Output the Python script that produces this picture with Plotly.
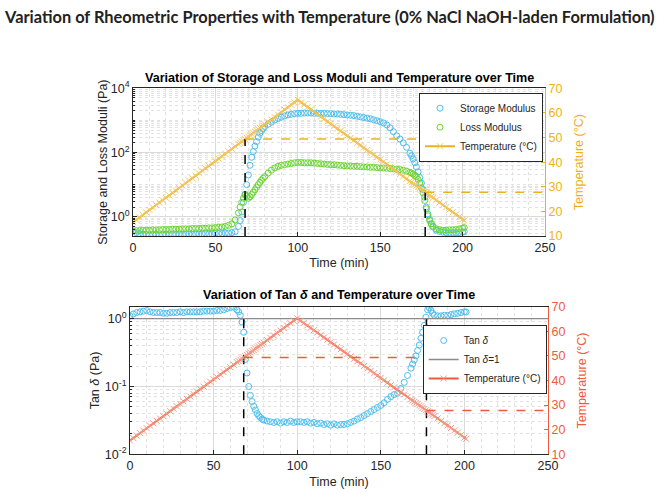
import plotly.graph_objects as go

# ---------------- data ----------------
time_min = [
    0, 2, 4, 6, 8, 10, 12, 14, 16, 18, 20, 22, 24, 26, 28, 30, 32, 34, 36, 38,
    40, 42, 44, 46, 48, 50, 52, 54, 56, 58, 60, 62, 64,
    65, 66, 67, 68, 69, 70, 71, 72, 73, 74, 75, 76, 77, 78, 79, 80,
    82, 84, 86, 88, 90, 92, 94, 96, 98, 100, 102, 104, 106, 108, 110, 112, 114,
    116, 118, 120, 122, 124, 126, 128, 130, 132, 134, 136, 138, 140, 142, 144,
    146, 148, 150, 152, 154, 156, 158, 160, 162, 164, 166, 168,
    169, 170, 171, 172, 173, 174, 175, 176, 177, 178, 179, 180, 181, 182,
    184, 186, 188, 190, 192, 194, 196, 198, 200, 201,
]

storage_modulus_pa = [
    0.36, 0.32, 0.30, 0.29, 0.28, 0.27, 0.28, 0.28, 0.27, 0.28, 0.28, 0.29, 0.28,
    0.28, 0.29, 0.28, 0.29, 0.29, 0.28, 0.29, 0.29, 0.29, 0.30, 0.29, 0.29, 0.30,
    0.30, 0.30, 0.31, 0.31, 0.32, 0.34, 0.50,
    0.76, 1.41, 2.8, 5.0, 10, 20, 40, 71, 107, 158, 219, 302, 398, 479, 562, 646,
    759, 891, 1023, 1148, 1259, 1380, 1479, 1549, 1622, 1660, 1660, 1698, 1698,
    1698, 1660, 1660, 1660, 1660, 1622, 1622, 1585, 1585, 1549, 1514, 1479, 1445,
    1413, 1349, 1288, 1230, 1175, 1122, 1047, 977, 912, 832, 724, 589, 447, 331,
    263, 200, 145, 95,
    79, 63, 48, 35.5, 25.1, 16.6, 11.2, 7.1, 4.0, 2.0, 1.2, 0.83, 0.60, 0.48,
    0.38, 0.35, 0.33, 0.32, 0.32, 0.32, 0.32, 0.32, 0.33, 0.34,
]

loss_modulus_pa = [
    0.36, 0.37, 0.37, 0.38, 0.38, 0.38, 0.39, 0.39, 0.39, 0.40, 0.40, 0.40, 0.41,
    0.41, 0.41, 0.42, 0.42, 0.42, 0.43, 0.43, 0.43, 0.44, 0.44, 0.45, 0.45, 0.46,
    0.47, 0.48, 0.50, 0.54, 0.60, 0.79, 1.32,
    2.0, 2.8, 3.8, 4.8, 4.3, 3.8, 4.2, 4.9, 5.8, 6.9, 8.3, 10, 11.7, 13.8, 15.8, 17.8,
    22.9, 28.2, 33.1, 37.2, 39.8, 41.7, 43.7, 45.7, 47.9, 49.0, 49.0, 47.9, 47.9,
    47.9, 46.8, 45.7, 44.7, 43.7, 42.7, 41.7, 41.7, 40.7, 39.8, 38.9, 38.0, 38.0,
    37.2, 37.2, 36.3, 35.5, 35.5, 34.7, 34.7, 33.9, 33.1, 33.1, 32.4, 31.6, 30.9,
    30.2, 29.5, 28.2, 26.3, 24.0,
    22.9, 21.4, 19.5, 17.8, 14.5, 11.2, 7.9, 5.5, 3.2, 1.78, 1.07, 0.76, 0.60, 0.50,
    0.42, 0.39, 0.38, 0.38, 0.39, 0.39, 0.40, 0.42, 0.44, 0.46,
]

tan_delta = [
    1.10, 1.17, 1.23, 1.26, 1.29, 1.32, 1.26, 1.23, 1.23, 1.23, 1.20, 1.20, 1.23,
    1.23, 1.23, 1.26, 1.23, 1.26, 1.26, 1.26, 1.26, 1.26, 1.29, 1.29, 1.29, 1.29,
    1.32, 1.32, 1.35, 1.41, 1.45, 1.48, 1.35,
    1.26, 1.12, 0.89, 0.63, 0.25, 0.158, 0.100, 0.074, 0.060, 0.051, 0.045, 0.040,
    0.037, 0.035, 0.033, 0.032,
    0.0309, 0.0302, 0.0295, 0.0302, 0.0288, 0.0302, 0.0295, 0.0309, 0.0295, 0.0302,
    0.0302, 0.0295, 0.0302, 0.0288, 0.0295, 0.0282, 0.0288, 0.0275, 0.0282, 0.0269,
    0.0282, 0.0269, 0.0275, 0.0275, 0.0282, 0.0295, 0.0309, 0.0331, 0.0347, 0.0372,
    0.0398, 0.0427, 0.0457, 0.049, 0.0525, 0.0575, 0.0646, 0.0708, 0.0759, 0.0794,
    0.0933, 0.115, 0.145, 0.186,
    0.214, 0.245, 0.282, 0.339, 0.407, 0.513, 0.631, 0.794, 1.05, 1.35, 1.45, 1.32,
    1.20, 1.12,
    1.10, 1.10, 1.12, 1.12, 1.15, 1.18, 1.20, 1.23, 1.26, 1.25,
]

temperature_c = [
    15.6, 16.6, 17.6, 18.6, 19.6, 20.6, 21.6, 22.6, 23.6, 24.5, 25.5, 26.5, 27.5,
    28.5, 29.5, 30.5, 31.5, 32.5, 33.5, 34.5, 35.5, 36.5, 37.5, 38.5, 39.5, 40.5,
    41.4, 42.4, 43.4, 44.4, 45.4, 46.4, 47.4,
    47.9, 48.4, 48.9, 49.4, 49.9, 50.4, 50.9, 51.4, 51.9, 52.4, 52.9, 53.4, 53.9,
    54.4, 54.9, 55.4,
    56.4, 57.3, 58.3, 59.3, 60.3, 61.3, 62.3, 63.3, 64.3, 65.3, 64.3, 63.4, 62.4,
    61.4, 60.5, 59.5, 58.5, 57.5, 56.6, 55.6, 54.6, 53.7, 52.7, 51.7, 50.8, 49.8,
    48.8, 47.8, 46.9, 45.9, 44.9, 44.0, 43.0, 42.0, 41.1, 40.1, 39.1, 38.1, 37.2,
    36.2, 35.2, 34.3, 33.3, 32.3,
    31.8, 31.3, 30.9, 30.4, 29.9, 29.4, 28.9, 28.4, 27.9, 27.5, 27.0, 26.5, 26.0, 25.5,
    24.6, 23.6, 22.6, 21.7, 20.7, 19.7, 18.8, 17.8, 16.8, 16.3,
]

transition_time_min = [68.0, 177.3]
transition_temp_c = [49.4, 27.8]
tan_delta_unity = 1.0
time_range = [0, 250]
time_ticks = [0, 50, 100, 150, 200, 250]
temp_range = [10, 70]
temp_ticks = [10, 20, 30, 40, 50, 60, 70]
moduli_ticks = [1, 100, 10000]
moduli_tick_text = ["10<sup>0</sup>", "10<sup>2</sup>", "10<sup>4</sup>"]
tan_ticks = [0.01, 0.1, 1]
tan_tick_text = ["10<sup>-2</sup>", "10<sup>-1</sup>", "10<sup>0</sup>"]

# ---------------- styles ----------------
FONT = "Liberation Sans, Arial, Helvetica, sans-serif"
DARK = "#262626"
BLUE = "#4DBEEE"
GREEN = "#6AD530"
ORANGE = "#EDB120"
ORANGE_M = "#F4C766"
RED = "#F05A3C"
RED_M = "#F59A85"
GRID = "#DADADA"
MINOR = "#E2E2E2"

W, H = 661, 493


def px_x(p):
    return p / W


def px_y(p):
    return 1 - p / H


fig = go.Figure()

# ---- top panel ----
fig.add_trace(go.Scatter(
    x=time_min, y=storage_modulus_pa, mode="markers", name="Storage Modulus",
    marker=dict(symbol="circle-open", size=6, color=BLUE, line=dict(width=1, color=BLUE)),
    xaxis="x", yaxis="y", legend="legend"))
fig.add_trace(go.Scatter(
    x=time_min, y=loss_modulus_pa, mode="markers", name="Loss Modulus",
    marker=dict(symbol="circle-open", size=6, color=GREEN, line=dict(width=1, color=GREEN)),
    xaxis="x", yaxis="y", legend="legend"))
fig.add_trace(go.Scatter(
    x=time_min, y=temperature_c, mode="lines+markers", name="Temperature (°C)",
    line=dict(color=ORANGE, width=2),
    marker=dict(symbol="x-thin", size=6, color=ORANGE_M, line=dict(width=1, color=ORANGE_M)),
    xaxis="x", yaxis="y2", legend="legend"))
for t, temp in zip(transition_time_min, transition_temp_c):
    fig.add_trace(go.Scatter(
        x=[t, t], y=[temp_range[0], temp], mode="lines", showlegend=False,
        line=dict(color="black", width=1.5, dash="dash"), xaxis="x", yaxis="y2",
        hoverinfo="skip"))
    fig.add_trace(go.Scatter(
        x=[t, time_range[1]], y=[temp, temp], mode="lines", showlegend=False,
        line=dict(color=ORANGE, width=1.5, dash="dash"), xaxis="x", yaxis="y2",
        hoverinfo="skip"))

# ---- bottom panel ----
fig.add_trace(go.Scatter(
    x=time_min, y=tan_delta, mode="markers", name="Tan <i>δ</i>",
    marker=dict(symbol="circle-open", size=6, color=BLUE, line=dict(width=1, color=BLUE)),
    xaxis="x2", yaxis="y3", legend="legend2"))
fig.add_trace(go.Scatter(
    x=time_range, y=[tan_delta_unity, tan_delta_unity], mode="lines", name="Tan <i>δ</i>=1",
    line=dict(color="#8C8C8C", width=1.3), xaxis="x2", yaxis="y3", legend="legend2"))
fig.add_trace(go.Scatter(
    x=time_min, y=temperature_c, mode="lines+markers", name="Temperature (°C)",
    line=dict(color=RED, width=2),
    marker=dict(symbol="x-thin", size=6, color=RED_M, line=dict(width=1, color=RED_M)),
    xaxis="x2", yaxis="y4", legend="legend2"))
for t, temp in zip(transition_time_min, transition_temp_c):
    fig.add_trace(go.Scatter(
        x=[t, t], y=[tan_ticks[0], tan_delta_unity], mode="lines", showlegend=False,
        line=dict(color="black", width=1.5, dash="dash"), xaxis="x2", yaxis="y3",
        hoverinfo="skip"))
    fig.add_trace(go.Scatter(
        x=[t, time_range[1]], y=[temp, temp], mode="lines", showlegend=False,
        line=dict(color=RED, width=1.5, dash="dash"), xaxis="x2", yaxis="y4",
        hoverinfo="skip"))

tickfont = dict(family=FONT, size=12.5, color=DARK)
titlefont = dict(family=FONT, size=12.5, color=DARK)

moduli_minor = [k * 10 ** n for n in range(-1, 4) for k in range(1, 10)]
moduli_minor = [v for v in moduli_minor if v not in moduli_ticks]
tan_minor = [k * 10 ** n for n in range(-2, 1) for k in range(1, 10)]
tan_minor = [v for v in tan_minor if v not in tan_ticks]


def xaxis(domain, anchor):
    return dict(
        domain=domain, anchor=anchor, range=time_range, tickvals=time_ticks,
        automargin=False,
        showgrid=True, gridcolor=GRID, gridwidth=1, zeroline=False,
        showline=True, linecolor=DARK, linewidth=1, mirror=True,
        ticks="inside", ticklen=4, tickcolor=DARK, tickfont=tickfont,
        title=dict(text="Time (min)", font=titlefont, standoff=4),
        minor=dict(dtick=10, showgrid=True, gridcolor=MINOR, griddash="dot", ticks=""),
    )


fig.update_layout(
    width=W, height=H, margin=dict(l=0, r=0, t=0, b=0),
    paper_bgcolor="white", plot_bgcolor="white",
    font=dict(family=FONT, color=DARK),
    xaxis=xaxis([px_x(133), px_x(545)], "y"),
    yaxis=dict(
        domain=[px_y(236), px_y(88.3)], anchor="x", type="log", range=[-0.6, 4],
        automargin=False,
        tickvals=moduli_ticks, ticktext=moduli_tick_text, tickfont=tickfont,
        showgrid=True, gridcolor=GRID, zeroline=False,
        showline=True, linecolor=DARK, linewidth=1,
        ticks="inside", ticklen=4, tickcolor=DARK,
        minor=dict(tickvals=moduli_minor, showgrid=True, gridcolor=MINOR, griddash="dot",
                   ticks="inside", ticklen=2, tickcolor=DARK),
        title=dict(text="Storage and Loss Moduli (Pa)", font=titlefont, standoff=0),
    ),
    yaxis2=dict(
        overlaying="y", side="right", anchor="x", range=temp_range, tickvals=temp_ticks,
        automargin=False,
        showgrid=False, zeroline=False, showline=True, linecolor=ORANGE, linewidth=1,
        ticks="inside", ticklen=4, tickcolor=ORANGE,
        tickfont=dict(family=FONT, size=12.5, color=ORANGE),
        title=dict(text="Temperature (°C)", font=dict(family=FONT, size=12.5, color=ORANGE),
                   standoff=12),
    ),
    xaxis2=xaxis([px_x(130), px_x(548)], "y3"),
    yaxis3=dict(
        domain=[px_y(454.3), px_y(306.7)], anchor="x2", type="log", range=[-2, 0.176],
        automargin=False,
        tickvals=tan_ticks, ticktext=tan_tick_text, tickfont=tickfont,
        showgrid=True, gridcolor=GRID, zeroline=False,
        showline=True, linecolor=DARK, linewidth=1,
        ticks="inside", ticklen=4, tickcolor=DARK,
        minor=dict(tickvals=tan_minor, showgrid=True, gridcolor=MINOR, griddash="dot",
                   ticks="inside", ticklen=2, tickcolor=DARK),
        title=dict(text="Tan <i>δ</i> (Pa)", font=titlefont, standoff=2),
    ),
    yaxis4=dict(
        overlaying="y3", side="right", anchor="x2", range=temp_range, tickvals=temp_ticks,
        automargin=False,
        showgrid=False, zeroline=False, showline=True, linecolor=RED, linewidth=1,
        ticks="inside", ticklen=4, tickcolor=RED,
        tickfont=dict(family=FONT, size=12.5, color=RED),
        title=dict(text="Temperature (°C)", font=dict(family=FONT, size=12.5, color=RED),
                   standoff=12),
    ),
    legend=dict(
        x=px_x(543), xanchor="right", y=px_y(92.7), yanchor="top",
        bgcolor="white", bordercolor=DARK, borderwidth=1,
        font=dict(family=FONT, size=10, color=DARK), tracegroupgap=0, itemwidth=30,
    ),
    legend2=dict(
        x=px_x(546.7), xanchor="right", y=px_y(325), yanchor="top",
        bgcolor="white", bordercolor=DARK, borderwidth=1,
        font=dict(family=FONT, size=10, color=DARK), tracegroupgap=0, itemwidth=30,
    ),
    showlegend=True,
    annotations=[
        dict(text="<b>Variation of Rheometric Properties with Temperature (0% NaCl NaOH-laden Formulation)</b>",
             x=px_x(329), y=px_y(17), xref="paper", yref="paper", showarrow=False,
             xanchor="center", yanchor="middle",
             font=dict(family="Lato, Open Sans, sans-serif", size=16.4, color="#222222")),
        dict(text="<b>Variation of Storage and Loss Moduli and Temperature over Time</b>",
             x=px_x(339), y=px_y(78), xref="paper", yref="paper", showarrow=False,
             xanchor="center", yanchor="middle",
             font=dict(family=FONT, size=12.6, color="black")),
        dict(text="<b>Variation of Tan <i>δ</i> and Temperature over Time</b>",
             x=px_x(339), y=px_y(295), xref="paper", yref="paper", showarrow=False,
             xanchor="center", yanchor="middle",
             font=dict(family=FONT, size=12.6, color="black")),
    ],
)

# remove the browser's default 8px page margin so the figure sits at the page origin
fig.write_html("out.html", config={"displayModeBar": False},
               post_script="document.body.style.margin='0';")
